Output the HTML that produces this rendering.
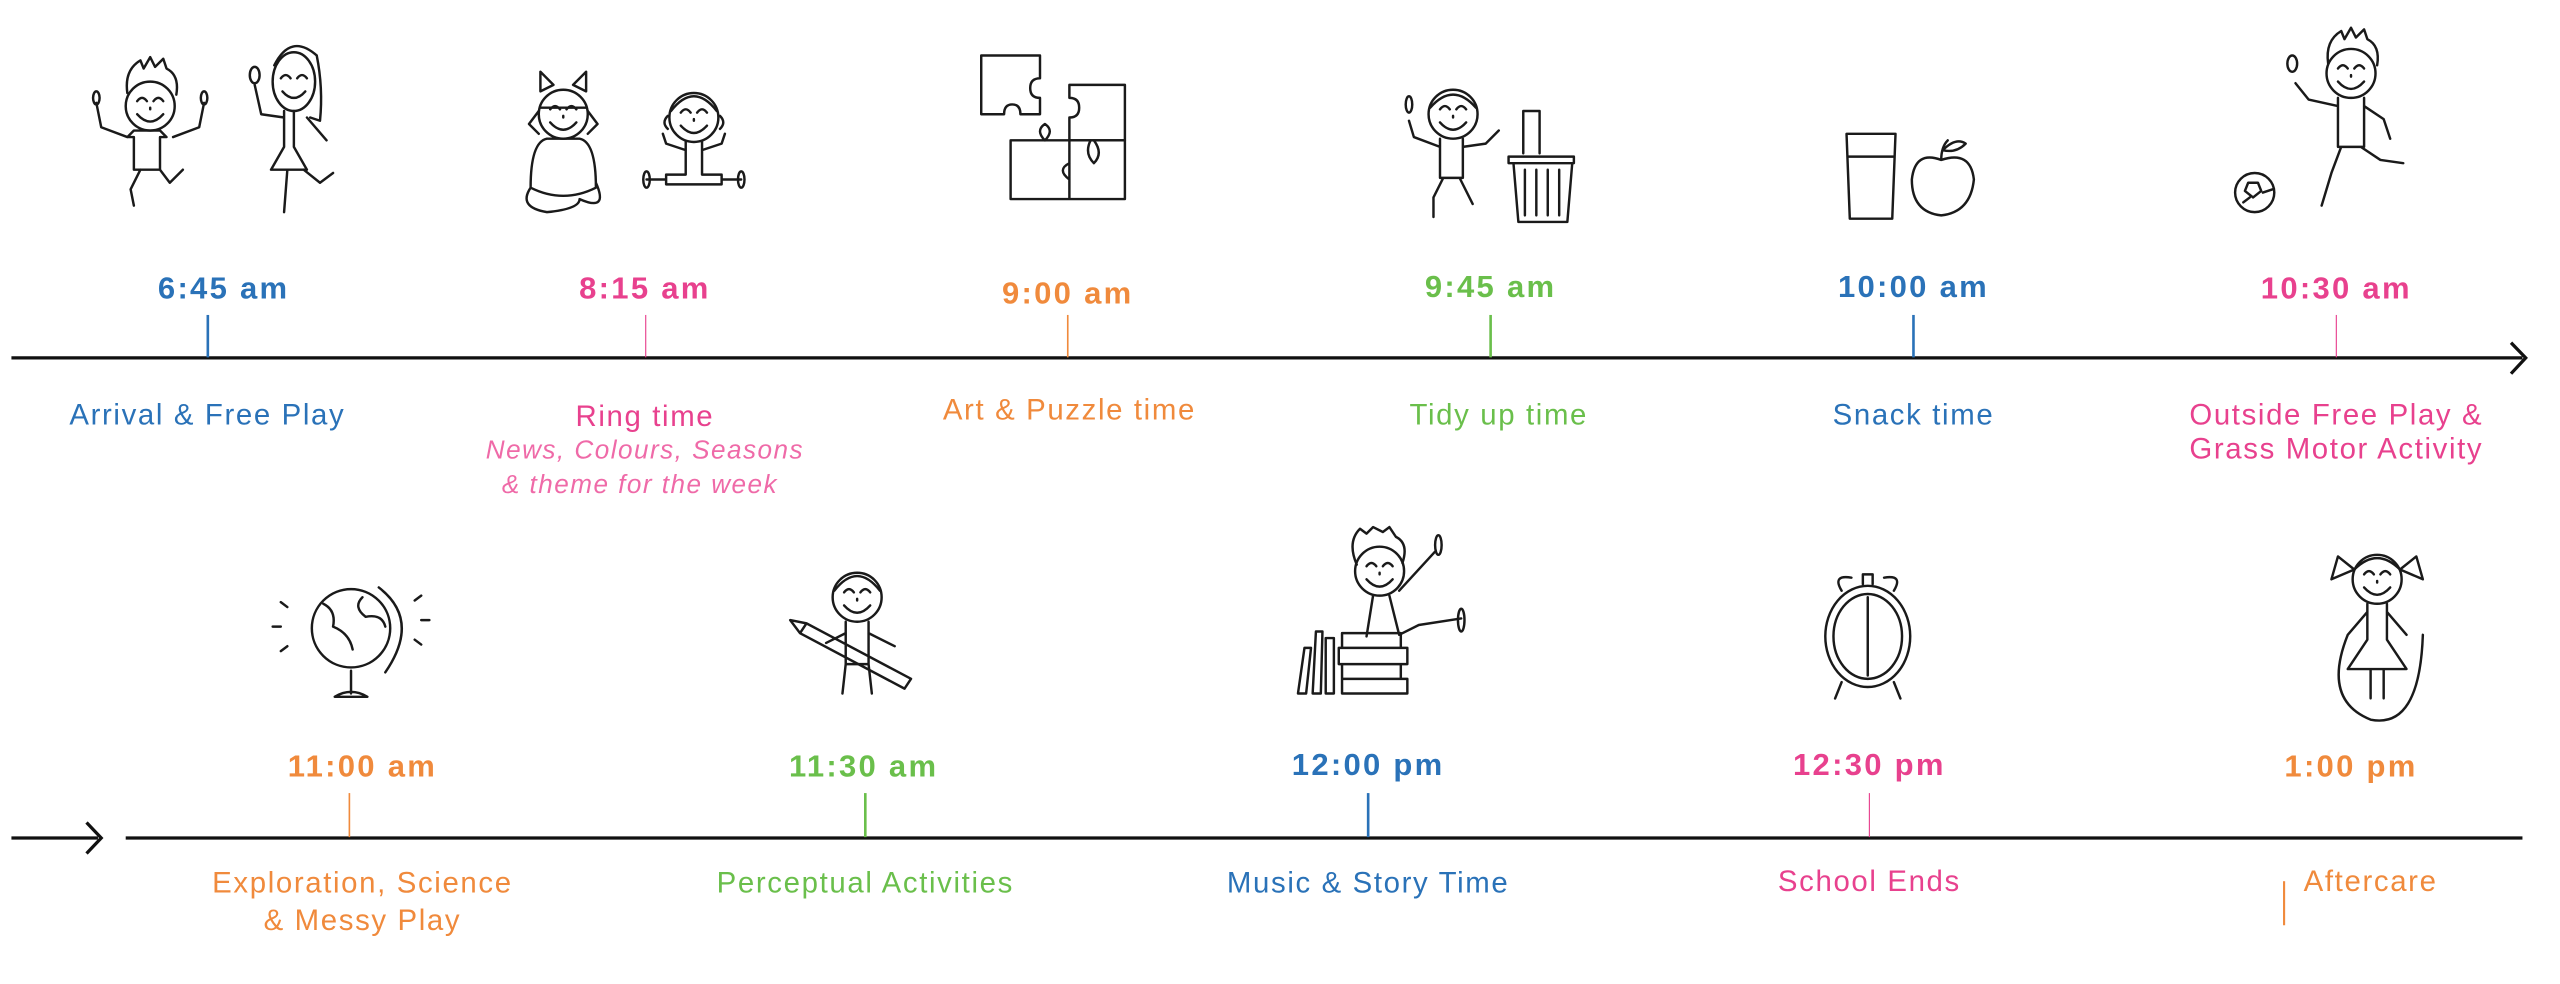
<!DOCTYPE html>
<html><head><meta charset="utf-8"><style>
html,body{margin:0;padding:0;background:#fff;}
svg{display:block;}
.t{font-family:"Liberation Sans",sans-serif;font-weight:bold;font-size:19px;letter-spacing:1.4px;text-anchor:middle;}
.l{font-family:"Liberation Sans",sans-serif;font-size:18px;letter-spacing:1px;text-anchor:middle;}
.s{font-family:"Liberation Sans",sans-serif;font-size:16px;letter-spacing:0.9px;font-style:italic;text-anchor:middle;fill:#ef6aa8;}
.b{fill:#2a72b8}.p{fill:#e8418e}.o{fill:#f08a3c}.g{fill:#6abf4b}
.ic{fill:none;stroke:#1a1a1a;stroke-width:1.5;stroke-linecap:round;stroke-linejoin:round;}
</style></head><body>
<svg width="2560" height="984" viewBox="0 0 1568 603" preserveAspectRatio="none" xmlns="http://www.w3.org/2000/svg">
<defs>
<g id="face">
<circle cx="0" cy="0" r="15"/>
<path d="M-8,-3 q3,-4 6,0 M2,-3 q3,-4 6,0 M-8,5 q8,9 16,0 M0,1 l0,1"/>
</g>
</defs>
<line x1="7" y1="219.3" x2="1545" y2="219.3" stroke="#111" stroke-width="2"/>
<path d="M1538,210 L1547,219.3 L1538,229" fill="none" stroke="#111" stroke-width="2"/>
<line x1="7" y1="513.5" x2="60" y2="513.5" stroke="#111" stroke-width="2"/>
<path d="M53,504 L62,513.5 L53,523" fill="none" stroke="#111" stroke-width="2"/>
<line x1="77" y1="513.5" x2="1545" y2="513.5" stroke="#111" stroke-width="2"/>

<line x1="127.3" y1="193" x2="127.3" y2="219" stroke="#2a72b8" stroke-width="1.6"/>
<line x1="395.5" y1="193" x2="395.5" y2="219" stroke="#e8418e" stroke-width="0.7"/>
<line x1="654" y1="193" x2="654" y2="219" stroke="#f08a3c" stroke-width="1"/>
<line x1="913" y1="193" x2="913" y2="219" stroke="#6abf4b" stroke-width="1.6"/>
<line x1="1172" y1="193" x2="1172" y2="219" stroke="#2a72b8" stroke-width="1.6"/>
<line x1="1431" y1="193" x2="1431" y2="219" stroke="#e8418e" stroke-width="0.7"/>
<line x1="214" y1="486" x2="214" y2="513" stroke="#f08a3c" stroke-width="1"/>
<line x1="530" y1="486" x2="530" y2="513" stroke="#6abf4b" stroke-width="1.6"/>
<line x1="838" y1="486" x2="838" y2="513" stroke="#2a72b8" stroke-width="1.6"/>
<line x1="1145" y1="486" x2="1145" y2="513" stroke="#e8418e" stroke-width="0.7"/>
<line x1="1399" y1="540" x2="1399" y2="567" stroke="#f08a3c" stroke-width="1.3"/>

<text class="t b" x="137" y="183">6:45 am</text>
<text class="t p" x="395" y="183">8:15 am</text>
<text class="t o" x="654" y="186">9:00 am</text>
<text class="t g" x="913" y="182">9:45 am</text>
<text class="t b" x="1172" y="182">10:00 am</text>
<text class="t p" x="1431" y="183">10:30 am</text>
<text class="l b" x="127" y="260">Arrival &amp; Free Play</text>
<text class="l p" x="395" y="261">Ring time</text>
<text class="s" x="395" y="281">News, Colours, Seasons</text>
<text class="s" x="392" y="302">&amp; theme for the week</text>
<text class="l o" x="655" y="257">Art &amp; Puzzle time</text>
<text class="l g" x="918" y="260">Tidy up time</text>
<text class="l b" x="1172" y="260">Snack time</text>
<text class="l p" x="1431" y="260">Outside Free Play &amp;</text>
<text class="l p" x="1431" y="281">Grass Motor Activity</text>
<text class="t o" x="222" y="476">11:00 am</text>
<text class="t g" x="529" y="476">11:30 am</text>
<text class="t b" x="838" y="475">12:00 pm</text>
<text class="t p" x="1145" y="475">12:30 pm</text>
<text class="t o" x="1440" y="476">1:00 pm</text>
<text class="l o" x="222" y="547">Exploration,  Science</text>
<text class="l o" x="222" y="570">&amp; Messy Play</text>
<text class="l g" x="530" y="547">Perceptual Activities</text>
<text class="l b" x="838" y="547">Music &amp; Story Time</text>
<text class="l p" x="1145" y="546">School Ends</text>
<text class="l o" x="1452" y="546">Aftercare</text>

<g class="ic">
<g transform="translate(92,65)"><use href="#face"/>
<path d="M-14,-8 q-2,-14 8,-20 l2,5 l4,-7 l3,6 l5,-5 l2,6 q8,4 6,16"/>
<path d="M-10,15 l-4,4 l4,0 l0,20 l16,0 l0,-20 l4,0 l-4,-4 z M-14,19 l-16,-6 l-3,-15 M14,19 l16,-6 l3,-15 M-6,39 l-6,12 l2,10 M6,39 l6,8 l8,-8"/>
<ellipse cx="-33" cy="-5" rx="2" ry="4"/><ellipse cx="33" cy="-5" rx="2" ry="4"/></g>
<g transform="translate(180,50)"><ellipse cx="0" cy="0" rx="13" ry="18"/>
<path d="M-8,-2 q3,-4 6,0 M2,-2 q3,-4 6,0 M-7,6 q7,8 14,0 M-12,-10 q10,-20 26,-6 q4,20 2,40 l-6,-2"/>
<path d="M-6,18 l0,22 l-8,14 l22,0 l-8,-14 l0,-22 M-6,22 l-14,-2 l-4,-18 M8,22 l12,14 M-4,54 l-2,26 M6,54 l10,8 l8,-6"/>
<ellipse cx="-24" cy="-4" rx="3" ry="5"/></g>
<g transform="translate(345,70)"><use href="#face"/>
<path d="M-14,-4 l28,0 M-6,-18 l-8,-8 l0,12 z M6,-18 l8,-8 l0,12 z M-15,-2 l-6,8 l6,6 M15,-2 l6,8 l-6,6"/>
<path d="M-10,15 q-10,2 -10,30 q20,10 40,0 q0,-28 -10,-30 z M-20,45 q-8,12 10,15 q20,-2 20,-8 q18,8 10,-10"/></g>
<g transform="translate(425,72)"><use href="#face"/>
<path d="M-14,-4 q14,-18 28,0 M-16,-1 q-4,4 0,8 M16,-1 q4,4 0,8"/>
<path d="M-5,15 l0,20 l-12,0 l0,6 l34,0 l0,-6 l-12,0 l0,-20 M-5,20 l-12,-4 l-2,-6 M5,20 l12,-4 l2,-6 M-17,38 l-12,0 M17,38 l12,0"/>
<ellipse cx="-29" cy="38" rx="2" ry="5"/><ellipse cx="29" cy="38" rx="2" ry="5"/></g>
<path d="M601,34 l36,0 l0,14 q-6,0 -6,6 q0,6 6,6 l0,10 l-12,0 q0,-6 -5,-6 q-5,0 -5,6 l-14,0 z"/>
<path d="M655,52 l34,0 l0,34 l-34,0 l0,-14 q6,0 6,-6 q0,-6 -6,-6 z"/>
<path d="M619,86 l36,0 l0,36 l-36,0 z M655,86 l34,0 l0,36 l-34,0 M640,86 q-6,-6 0,-10 q6,4 0,10 M655,100 q-8,4 0,10 M668,86 q-4,8 2,14 q6,-6 0,-14"/>
<g transform="translate(890,70)"><use href="#face"/>
<path d="M-14,-4 q14,-16 28,0 M-8,15 l0,24 l14,0 l0,-24 M-8,20 l-16,-6 l-3,-10 M6,20 l14,-2 l8,-8 M-6,39 l-6,12 l0,12 M4,39 l8,16"/>
<ellipse cx="-27" cy="-6" rx="2" ry="5"/></g>
<path d="M924,96 l40,0 l0,4 l-40,0 z M927,100 l3,36 l30,0 l3,-36 M934,104 l0,28 M941,104 l0,28 M948,104 l0,28 M955,104 l0,28 M933,94 l0,-26 l10,0 l0,26"/>
<path d="M1131,82 l30,0 l-2,52 l-26,0 z M1132,96 l28,0"/>
<path d="M1189,98 q-16,-6 -18,12 q0,20 18,22 q18,-2 20,-22 q-2,-18 -20,-12 M1189,98 q0,-8 4,-12 M1190,92 q8,-8 14,-4 q-6,6 -14,4"/>
<g transform="translate(1440,45)"><use href="#face"/>
<path d="M-14,-6 q-2,-14 8,-20 l2,5 l4,-7 l3,6 l5,-5 l2,6 q8,4 6,16"/>
<path d="M-8,15 l0,30 l16,0 l0,-30 M-8,20 l-18,-4 l-8,-10 M8,20 l12,8 l4,12 M-6,45 l-6,16 l-6,20 M6,45 l12,8 l14,2"/>
<ellipse cx="-36" cy="-6" rx="3" ry="5"/></g>
<circle cx="1381" cy="118" r="12"/><path d="M1377,112 l6,0 l2,5 l-5,4 l-5,-4 z M1374,124 l4,-3 M1386,118 l6,-2"/>
<circle cx="215" cy="385" r="24"/><path d="M232,360 q26,20 4,52 M215,411 l0,14 M205,427 q10,-6 20,0 z M198,370 q8,4 6,14 q10,4 12,14 M222,366 q-6,6 2,12 q10,-2 12,6 M176,372 l-4,-3 M172,384 l-5,0 M176,396 l-4,3 M254,368 l4,-3 M258,380 l5,0 M254,392 l4,3"/>
<g transform="translate(525,366)"><use href="#face"/>
<path d="M-14,-4 q14,-18 28,0 M-7,15 l0,26 l14,0 l0,-26 M-7,41 l-2,18 M7,41 l2,18 M-7,22 l-12,6 M7,22 l16,8"/></g>
<path d="M494,382 l64,34 l-4,6 l-64,-34 z M490,388 l-6,-8 l10,2"/>
<g transform="translate(845,350)"><use href="#face"/>
<path d="M-14,-4 q-6,-14 2,-22 l4,3 l4,-4 l6,3 l4,-3 l4,6 q8,4 4,16 M-4,15 l-4,25 M6,15 l6,24 l12,-6 l26,-4 M12,12 l22,-24"/>
<ellipse cx="50" cy="30" rx="2" ry="7"/><ellipse cx="36" cy="-16" rx="2" ry="6"/></g>
<path d="M822,388 l36,0 l0,9 l-36,0 z M820,397 l42,0 l0,10 l-42,0 z M822,407 l36,0 l0,9 l-36,0 z M822,416 l40,0 l0,9 l-40,0 z M795,425 l4,-28 l4,0 l-3,28 z M804,425 l2,-38 l4,0 l-1,38 z M812,425 l0,-34 l5,0 l0,34 z"/>
<ellipse cx="1144" cy="390" rx="26" ry="31"/><ellipse cx="1144" cy="390" rx="21" ry="26"/>
<path d="M1144,366 l0,48 M1128,362 q-6,-10 6,-8 M1160,362 q6,-10 -6,-8 M1141,358 l0,-6 l6,0 l0,6 M1128,418 l-4,10 M1160,418 l4,10"/>
<g transform="translate(1456,355)"><use href="#face"/>
<path d="M-14,-6 q14,-14 28,0 M-14,-6 l-14,6 l4,-14 z M14,-6 l14,6 l-4,-14 z"/>
<path d="M-6,15 l0,22 l-12,18 l36,0 l-12,-18 l0,-22 M-6,20 l-12,14 M6,20 l12,14 M-4,55 l0,18 M4,55 l0,18 M-18,34 q-16,40 14,52 q30,6 32,-52"/></g>
</g>
</svg>
</body></html>
